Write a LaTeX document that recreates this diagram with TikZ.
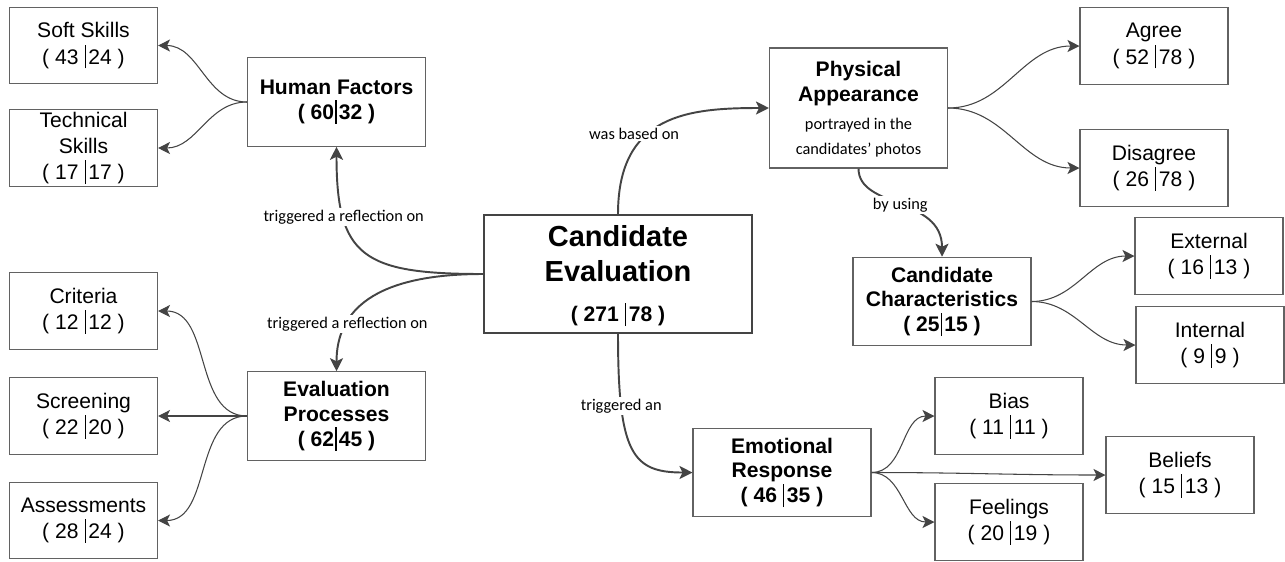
\documentclass[tikz,border=0pt]{standalone}
\usepackage{fontspec}
\setmainfont{Liberation Sans}
\newfontfamily\lblfont{Carlito}
\usetikzlibrary{arrows.meta}
\definecolor{linegray}{HTML}{444444}
\definecolor{boxgray}{HTML}{626262}
\newcommand{\vb}{\hspace{0.3em}\rule[-0.2em]{0.6pt}{1.12em}\hspace{0.12em}}
\newcommand{\vbb}{\hspace{0.06em}\rule[-0.2em]{0.7pt}{1.12em}\hspace{0.1em}}
\newcommand{\hubsize}{\fontsize{12}{14.2}\selectfont\bfseries}
\newcommand{\notesize}{\lblfont\mdseries\fontsize{9.3}{12}\selectfont}
\tikzset{every node/.style={font=\fontsize{12}{15}\selectfont},
  leaf/.style={draw=boxgray, line width=0.6pt, minimum width=2.96cm, minimum height=1.53cm, align=center, inner sep=1pt},
  hub/.style={draw=boxgray, line width=0.6pt, minimum width=3.56cm, minimum height=1.77cm, align=center, inner sep=1pt, font=\hubsize},
  lbl/.style={font=\lblfont\fontsize{9.3}{11}\selectfont, fill=white, inner sep=1pt},
  subarrow/.style={draw=linegray, line width=0.6pt, -{Stealth[length=2.4mm, width=2.4mm, inset=0.6mm]}},
  mainarrow/.style={draw=linegray, line width=1.1pt, -{Stealth[length=2.6mm, width=2.6mm, inset=0.6mm]}}}

\begin{document}
\begin{tikzpicture}
    \useasboundingbox (0,0) rectangle (25.7,-11.22);
    % centre
    \node[draw=linegray, line width=1.1pt, minimum width=5.36cm, minimum height=2.36cm, align=center, inner sep=1pt,
      font=\fontsize{16.5}{20}\selectfont\bfseries]
      (ce) at (12.36,-5.48) {\\[-6pt]Candidate\\Evaluation\\[3pt]\hubsize ( 271\vb78 )};
    % left side
    \node[hub] (hf) at (6.73,-2.04) {Human Factors\\( 60\vbb32 )};
    \node[hub] (ep) at (6.73,-8.32) {Evaluation\\Processes\\( 62\vbb45 )};
    \node[leaf] (soft) at (1.67,-0.91) {Soft Skills\\( 43\vb24 )};
    \node[leaf] (tech) at (1.67,-2.96) {Technical\\Skills\\( 17\vb17 )};
    \node[leaf] (crit) at (1.67,-6.22) {Criteria\\( 12\vb12 )};
    \node[leaf] (scr) at (1.67,-8.32) {Screening\\( 22\vb20 )};
    \node[leaf] (ass) at (1.67,-10.41) {Assessments\\( 28\vb24 )};
    % right side
    \node[hub, minimum height=2.4cm] (pa) at (17.17,-2.16)
      {\\[-4pt]Physical\\Appearance\\[2pt]\notesize portrayed in the\\\notesize candidates’ photos};
    \node[hub] (cc) at (18.84,-6.03) {Candidate\\Characteristics\\( 25\vbb15 )};
    \node[hub] (er) at (15.64,-9.45) {Emotional\\Response\\( 46\vb35 )};
    \node[leaf] (agr) at (23.08,-0.92) {Agree\\( 52\vb78 )};
    \node[leaf] (dis) at (23.08,-3.36) {Disagree\\( 26\vb78 )};
    \node[leaf] (ext) at (24.18,-5.12) {External\\( 16\vb13 )};
    \node[leaf] (int) at (24.20,-6.90) {Internal\\( 9\vb9 )};
    \node[leaf] (bias) at (20.18,-8.32) {Bias\\( 11\vb11 )};
    \node[leaf] (feel) at (20.18,-10.44) {Feelings\\( 20\vb19 )};
    \node[leaf] (bel) at (23.60,-9.50) {Beliefs\\( 15\vb13 )};
    % main connectors
    \draw[mainarrow] (ce.west) .. controls +(-2.4,0) and +(0,-2.2) .. node[lbl, pos=0.73]{triggered a reflection on} (hf.south);
    \draw[mainarrow] (ce.west) .. controls +(-2.2,0) and +(0,1.2) .. node[lbl, pos=0.7]{triggered a reflection on} (ep.north);
    \draw[mainarrow] (ce.north) .. controls +(0,2) and +(-1.6,0) .. node[lbl, pos=0.4, xshift=-0.28cm]{was based on} (pa.west);
    \draw[mainarrow] (ce.south) .. controls +(0,-2.4) and +(-1.2,0) .. node[lbl, pos=0.25]{triggered an} (er.west);
    \draw[mainarrow] (pa.south) .. controls +(0,-0.8) and +(0,1.2) .. node[lbl, pos=0.5]{by using} (cc.north);
    % fans
    \foreach \a/\b in {hf/soft, hf/tech, ep/crit, ep/scr, ep/ass}
      \draw[subarrow] (\a.west) to[out=180, in=0] (\b.east);
    \foreach \a/\b in {pa/agr, pa/dis, cc/ext, cc/int, er/bias, er/bel, er/feel}
      \draw[subarrow] (\a.east) to[out=0, in=180] (\b.west);
\end{tikzpicture}
\end{document}
